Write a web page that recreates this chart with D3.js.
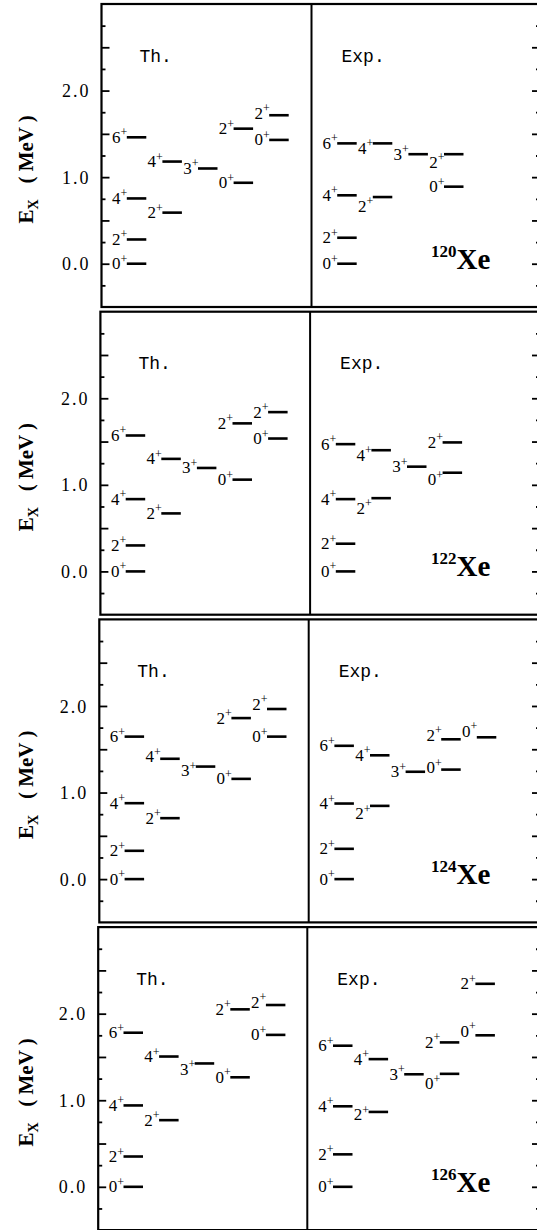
<!DOCTYPE html>
<html>
<head>
<meta charset="utf-8">
<script src="https://cdn.jsdelivr.net/npm/d3@7"></script>
<style>
  body { margin: 0; background: #fff; }
  svg { display: block; }
  text { fill: #000; }
</style>
</head>
<body>
<div id="chart"></div>
<script>
// Xe isotopes, top to bottom
var nuclei = ["120", "122", "124", "126"];

// levels: [column, spin, energy in MeV]
var th120  = [[0,"0",0],[0,"2",0.28],[0,"4",0.754],[0,"6",1.46],[1,"2",0.59],[1,"4",1.18],
              [2,"3",1.10],[3,"0",0.935],[3,"2",1.56],[4,"2",1.715],[4,"0",1.43]];
var exp120 = [[0,"0",0],[0,"2",0.30],[0,"4",0.79],[0,"6",1.39],[1,"2",0.77],[1,"4",1.39],
              [2,"3",1.265],[3,"2",1.265],[3,"0",0.89]];

var th122  = [[0,"0",0],[0,"2",0.30],[0,"4",0.835],[0,"6",1.57],[1,"2",0.67],[1,"4",1.30],
              [2,"3",1.195],[3,"0",1.06],[3,"2",1.71],[4,"2",1.84],[4,"0",1.535]];
var exp122 = [[0,"0",0],[0,"2",0.32],[0,"4",0.835],[0,"6",1.47],[1,"2",0.846],[1,"4",1.40],
              [2,"3",1.21],[3,"2",1.49],[3,"0",1.14]];

var th124  = [[0,"0",0],[0,"2",0.327],[0,"4",0.877],[0,"6",1.646],[1,"2",0.704],[1,"4",1.39],
              [2,"3",1.30],[3,"0",1.158],[3,"2",1.86],[4,"2",1.965],[4,"0",1.646]];
var exp124 = [[0,"0",0],[0,"2",0.35],[0,"4",0.873],[0,"6",1.54],[1,"2",0.846],[1,"4",1.43],
              [2,"3",1.24],[3,"0",1.265],[3,"2",1.615],[4,"0",1.638]];

var th126  = [[0,"0",0],[0,"2",0.35],[0,"4",0.94],[0,"6",1.78],[1,"2",0.77],[1,"4",1.505],
              [2,"3",1.425],[3,"0",1.265],[3,"2",2.05],[4,"2",2.10],[4,"0",1.755]];
var exp126 = [[0,"0",0],[0,"2",0.375],[0,"4",0.93],[0,"6",1.63],[1,"2",0.865],[1,"4",1.475],
              [2,"3",1.30],[3,"0",1.305],[3,"2",1.668],[4,"0",1.75],[4,"2",2.345]];

var theory = [th120, th122, th124, th126];
var experiment = [exp120, exp122, exp124, exp126];

var yTickLabels = [0, 1, 2];

// label nudges (px, + is down) where the figure shifts a spin label off its level
var labelNudge = {
  "120e1-2": 9, "120e1-4": 5, "120e3-2": 8, "120t4-2": -2,
  "122e1-4": 5, "122e1-2": 10, "122e3-0": 7,
  "124t2-3": 4, "124t4-2": -5, "124t1-4": -2, "124e1-2": 8, "124e3-2": -4, "124e4-0": -6, "124e3-0": -2,
  "126t2-3": 6, "126t4-2": -3, "126e3-0": 10, "126e4-0": -4, "126e1-2": 3
};

var W = 537, H = 1230;
var svg = d3.select("#chart").append("svg")
  .attr("width", W).attr("height", H);

var panelH = 303, panelStep = 307.7, rightX = 540;

nuclei.forEach(function(nuc, i) {
  var top = 4 + i * panelStep;
  var left = 101.5 - i * 1.1;
  var mid = 311.5 - i * 1.4;

  var y = d3.scaleLinear().domain([-0.5, 3]).range([top + panelH, top]);
  var g = svg.append("g");

  // frame and divider
  g.append("rect")
    .attr("x", left).attr("y", top)
    .attr("width", rightX - left).attr("height", panelH)
    .attr("fill", "none").attr("stroke", "#000").attr("stroke-width", 2.2);
  g.append("line")
    .attr("x1", mid).attr("x2", mid).attr("y1", top).attr("y2", top + panelH)
    .attr("stroke", "#000").attr("stroke-width", 2);

  var majors = d3.range(-0.5, 3.01, 0.5).filter(function(v) { return v > -0.5 && v < 3; });
  var minors = d3.range(-0.25, 3, 0.5);

  // inward ticks, left side
  g.append("g").attr("transform", "translate(" + left + ",0)")
    .call(d3.axisRight(y).tickValues(majors).tickSize(8).tickFormat(""));
  g.append("g").attr("transform", "translate(" + left + ",0)")
    .call(d3.axisRight(y).tickValues(minors).tickSize(4).tickFormat(""));
  // inward ticks, right side
  g.append("g").attr("transform", "translate(" + rightX + ",0)")
    .call(d3.axisLeft(y).tickValues(majors).tickSize(8).tickFormat(""));
  g.append("g").attr("transform", "translate(" + rightX + ",0)")
    .call(d3.axisLeft(y).tickValues(minors).tickSize(4).tickFormat(""));
  // tick labels
  g.append("g").attr("transform", "translate(" + left + ",0)")
    .call(d3.axisLeft(y).tickValues(yTickLabels).tickSize(0).tickPadding(11).tickFormat(d3.format(".1f")))
    .call(function(a) {
      a.selectAll("text")
        .attr("font-family", "'Liberation Serif', serif")
        .attr("font-size", 18).attr("letter-spacing", 2).attr("dy", "0.34em");
    });
  g.selectAll(".domain").remove();
  g.selectAll(".tick line").attr("stroke", "#000").attr("stroke-width", 1.8);

  // y title
  var title = g.append("text")
    .attr("transform", "translate(33," + y(1.09) + ") rotate(-90)")
    .attr("text-anchor", "middle")
    .attr("font-family", "'Liberation Serif', serif")
    .attr("font-weight", "bold").attr("font-size", 21)
    .style("white-space", "pre");
  title.append("tspan").text("E");
  title.append("tspan").attr("font-size", 14).attr("dy", 5).text("X");
  title.append("tspan").attr("dy", -5).text("   ( MeV )");

  // column headers
  var zero = y(0);
  g.append("text").attr("x", left + 38).attr("y", zero - 202)
    .attr("font-family", "'Liberation Mono', 'DejaVu Sans Mono', monospace")
    .attr("font-size", 18).text("Th.");
  g.append("text").attr("x", mid + 30).attr("y", zero - 202)
    .attr("font-family", "'Liberation Mono', 'DejaVu Sans Mono', monospace")
    .attr("font-size", 18).text("Exp.");

  // nucleus label
  var nl = g.append("text").attr("x", 431).attr("y", zero + 5)
    .attr("font-family", "'Liberation Serif', serif").attr("font-weight", "bold");
  nl.append("tspan").attr("font-size", 17).attr("dy", -12).text(nuc);
  nl.append("tspan").attr("font-size", 29).attr("dy", 12).text("Xe");

  // level schemes
  var sides = [
    { key: "t", data: theory[i], x0: left + 25.3 },
    { key: "e", data: experiment[i], x0: mid + 25.7 }
  ];
  sides.forEach(function(s) {
    var x = d3.scaleLinear().domain([0, 4]).range([s.x0, s.x0 + 4 * 35.6]);
    var lev = g.append("g").selectAll("g.level").data(s.data).enter().append("g");
    lev.append("line")
      .attr("x1", function(d) { return x(d[0]); })
      .attr("x2", function(d) { return x(d[0]) + 19.5; })
      .attr("y1", function(d) { return y(d[2]); })
      .attr("y2", function(d) { return y(d[2]); })
      .attr("stroke", "#000").attr("stroke-width", 2.6);
    var lab = lev.append("text")
      .attr("x", function(d) { return x(d[0]) + 0.5; })
      .attr("y", function(d) {
        var k = nuc + s.key + d[0] + "-" + d[1];
        return y(d[2]) + 5.5 + (labelNudge[k] || 0);
      })
      .attr("text-anchor", "end")
      .attr("font-family", "'Liberation Serif', serif")
      .attr("font-size", 17);
    lab.append("tspan").text(function(d) { return d[1]; });
    lab.append("tspan").attr("font-size", 12).attr("dy", -6.5).text("+");
  });
});
</script>
</body>
</html>
